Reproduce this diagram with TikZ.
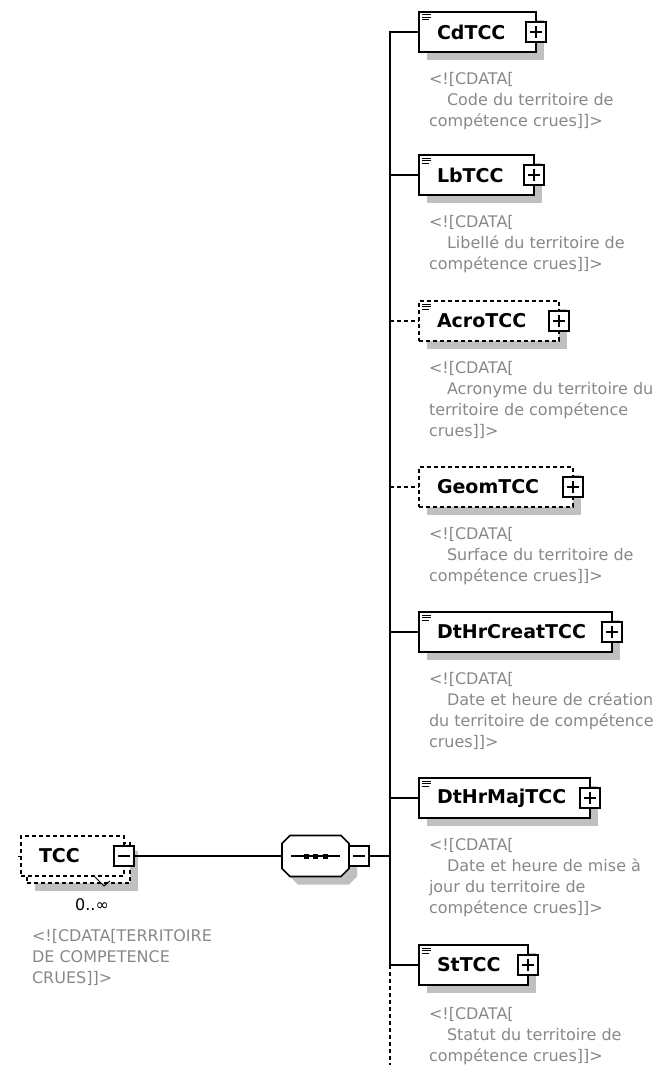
\documentclass[tikz,border=0pt]{standalone}
\usepackage{fontspec}
\setmainfont{DejaVu Sans}
\usetikzlibrary{positioning,shadows}

\definecolor{docgray}{RGB}{136,136,136}
\definecolor{shadowgray}{RGB}{192,192,192}

\tikzset{
  boxbase/.style={draw, line width=1.6pt, fill=white, anchor=west,
    minimum height=40pt, inner xsep=18pt, inner ysep=0pt, outer sep=0pt,
    align=left, font=\fontsize{19}{19}\selectfont\bfseries},
  elem/.style={boxbase, drop shadow={shadow xshift=8pt, shadow yshift=-8pt,
    fill=shadowgray, opacity=1}},
  optelem/.style={elem, dash pattern=on 4pt off 3pt},
  optbox/.style={boxbase, dash pattern=on 4pt off 3pt},
  doclines/.style={path picture={
    \draw[solid, line width=1pt]
      ([xshift=3pt,yshift=-3pt]path picture bounding box.north west) -- ++(9,0)
      ([xshift=3pt,yshift=-5.5pt]path picture bounding box.north west) -- ++(9,0)
      ([xshift=3pt,yshift=-8pt]path picture bounding box.north west) -- ++(7,0);}},
  expandbox/.style={draw, solid, line width=1.3pt, fill=white, minimum size=20pt,
    inner sep=0pt, outer sep=0pt, path picture={
    \draw[solid, line width=1.3pt]
      ([xshift=-6pt]path picture bounding box.center) -- ([xshift=6pt]path picture bounding box.center)
      ([yshift=-6pt]path picture bounding box.center) -- ([yshift=6pt]path picture bounding box.center);}},
  collapsebox/.style={draw, solid, line width=1.3pt, fill=white, minimum size=20pt,
    inner sep=0pt, outer sep=0pt, path picture={
    \draw[solid, line width=1.3pt]
      ([xshift=-6pt]path picture bounding box.center) -- ([xshift=6pt]path picture bounding box.center);}},
  seqframe/.style={minimum width=67pt, minimum height=41pt, inner sep=0pt, outer sep=0pt},
  note/.style={anchor=north west, align=left, text=docgray, inner sep=0pt,
    outer sep=0pt, font=\fontsize{16}{21}\selectfont},
  mult/.style={inner sep=0pt, font=\fontsize{16}{16}\selectfont},
  link/.style={line width=1.6pt},
  optlink/.style={link, dash pattern=on 4pt off 3pt},
}

\begin{document}
\begin{tikzpicture}[x=1pt,y=-1pt]
  \useasboundingbox (0,0) rectangle (662,1065);

  % TCC: root element, repeated 0..inf (stacked boxes)
  \node[optelem, minimum width=103pt, text width=67pt] (tccback) at (27,863) {};
  \node[optbox, minimum width=103pt, text width=67pt] (tcc) at (21,856) {TCC};
  \node[collapsebox] (tccminus) at (tcc.east) {};
  \draw[line width=1pt] ([xshift=-3pt]tcc.west) -- (tcc.west);
  \draw[line width=1pt] (95,877) -- (104,886) -- (110,881);
  \node[mult] (tccmult) at (92,905) {0..∞};
  \node[note] (tccnote) at (32,929) {<![CDATA[TERRITOIRE\\DE COMPETENCE\\CRUES]]>};

  % sequence compositor (octagon, shadow first)
  \node[seqframe] (seqshade) at (323.5,864) {};
  \node[seqframe] (seq) at (315.5,856) {};
  \fill[shadowgray] ([xshift=8pt]seqshade.north west) -- ([xshift=-8pt]seqshade.north east)
    -- ([yshift=-8pt]seqshade.north east) -- ([yshift=8pt]seqshade.south east)
    -- ([xshift=-8pt]seqshade.south east) -- ([xshift=8pt]seqshade.south west)
    -- ([yshift=8pt]seqshade.south west) -- ([yshift=-8pt]seqshade.north west) -- cycle;
  \draw[link, fill=white] ([xshift=8pt]seq.north west) -- ([xshift=-8pt]seq.north east)
    -- ([yshift=-8pt]seq.north east) -- ([yshift=8pt]seq.south east)
    -- ([xshift=-8pt]seq.south east) -- ([xshift=8pt]seq.south west)
    -- ([yshift=8pt]seq.south west) -- ([yshift=-8pt]seq.north west) -- cycle;
  \node[collapsebox, anchor=west] (seqminus) at (seq.east) {};
  \draw[line width=1.3pt] ([xshift=9pt]seq.west) -- ([xshift=-9pt]seq.east);
  \foreach \dx in {-9.5,0,9.5}
    \fill ([xshift=\dx pt]seq.center) +(-2.5,-2.5) rectangle +(2.5,2.5);
  \draw[link] (tccminus.east) -- (seq.west);

  % CdTCC
  \node[elem, doclines, minimum width=117pt, text width=81pt] (cd) at (419,32) {CdTCC};
  \node[expandbox] (cdplus) at (cd.east) {};
  \node[note, below right=20pt and 10pt of cd.south west] (cdnote)
    {<![CDATA[\\\hspace*{18pt}Code du territoire de\\compétence crues]]>};

  % LbTCC
  \node[elem, doclines, minimum width=115pt, text width=79pt] (lb) at (419,175) {LbTCC};
  \node[expandbox] (lbplus) at (lb.east) {};
  \node[note, below right=20pt and 10pt of lb.south west] (lbnote)
    {<![CDATA[\\\hspace*{18pt}Libellé du territoire de\\compétence crues]]>};

  % AcroTCC (optional)
  \node[optelem, doclines, minimum width=140pt, text width=104pt] (acro) at (419,321) {AcroTCC};
  \node[expandbox] (acroplus) at (acro.east) {};
  \node[note, below right=20pt and 10pt of acro.south west] (acronote)
    {<![CDATA[\\\hspace*{18pt}Acronyme du territoire du\\territoire de compétence\\crues]]>};

  % GeomTCC (optional)
  \node[optelem, minimum width=154pt, text width=118pt] (geom) at (419,487) {GeomTCC};
  \node[expandbox] (geomplus) at (geom.east) {};
  \node[note, below right=20pt and 10pt of geom.south west] (geomnote)
    {<![CDATA[\\\hspace*{18pt}Surface du territoire de\\compétence crues]]>};

  % DtHrCreatTCC
  \node[elem, doclines, minimum width=193pt, text width=157pt] (creat) at (419,632) {DtHrCreatTCC};
  \node[expandbox] (creatplus) at (creat.east) {};
  \node[note, below right=20pt and 10pt of creat.south west] (creatnote)
    {<![CDATA[\\\hspace*{18pt}Date et heure de création\\du territoire de compétence\\crues]]>};

  % DtHrMajTCC
  \node[elem, doclines, minimum width=171pt, text width=135pt] (maj) at (419,798) {DtHrMajTCC};
  \node[expandbox] (majplus) at (maj.east) {};
  \node[note, below right=20pt and 10pt of maj.south west] (majnote)
    {<![CDATA[\\\hspace*{18pt}Date et heure de mise à\\jour du territoire de\\compétence crues]]>};

  % StTCC
  \node[elem, doclines, minimum width=109pt, text width=73pt] (st) at (419,965) {StTCC};
  \node[expandbox] (stplus) at (st.east) {};
  \node[note, below right=22pt and 10pt of st.south west] (stnote)
    {<![CDATA[\\\hspace*{18pt}Statut du territoire de\\compétence crues]]>};

  % bus from the sequence to the children
  \coordinate (busend) at (390,1065);
  \draw[link] (cd.west) -| (busend |- st.west) -- (st.west);
  \draw[optlink] (busend |- st.west) -- (busend);
  \draw[link] (seqminus.east) -- (seqminus.east -| busend);
  \draw[link] (lb.west -| busend) -- (lb.west);
  \draw[optlink] (acro.west -| busend) -- (acro.west);
  \draw[optlink] (geom.west -| busend) -- (geom.west);
  \draw[link] (creat.west -| busend) -- (creat.west);
  \draw[link] (maj.west -| busend) -- (maj.west);
\end{tikzpicture}
\end{document}
